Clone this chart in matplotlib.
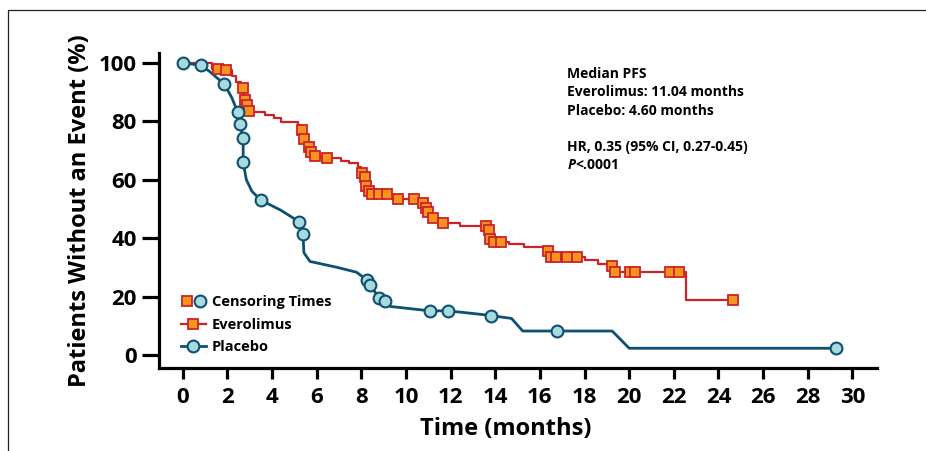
import numpy as np
import matplotlib
matplotlib.use("Agg")
import matplotlib.pyplot as plt
from matplotlib.lines import Line2D
from matplotlib.legend_handler import HandlerTuple

plt.rcParams['font.family'] = ['Open Sans', 'DejaVu Sans']
plt.rcParams['mathtext.fontset'] = 'custom'
plt.rcParams['mathtext.it'] = 'Open Sans:italic:bold'
plt.rcParams['mathtext.rm'] = 'Open Sans:bold'

#? Everolimus curve (step, time in months / % without event)
evero_t = [0, 1.3, 1.8, 2.2, 2.4, 2.6, 2.75, 2.83, 2.92, 3.1, 3.7, 4.1, 4.4, 5.15, 5.28,
           5.4, 5.6, 5.7, 5.8, 6.2, 7.1, 7.45, 7.85, 7.98, 8.1, 8.19, 8.3, 8.42, 9.4,
           10.6, 10.85, 10.96, 11.1, 11.5, 12.4, 13.7, 13.75, 13.9, 14.6, 15.3, 16.3,
           16.45, 18.0, 18.6, 19.15, 19.32, 22.55, 24.67]
evero_s = [100, 97.8, 97.3, 95.5, 93.5, 91.2, 87.2, 85.5, 83.6, 83.2, 82.1, 81.0, 79.8, 78.5, 77.0,
           73.9, 71.3, 69.3, 68.2, 67.3, 66.5, 65.6, 64.2, 62.2, 60.8, 57.8, 56.2, 55.0, 53.4,
           51.9, 50.2, 48.8, 47.0, 45.0, 44.1, 42.8, 39.7, 38.6, 37.9, 36.8, 35.7,
           33.6, 32.5, 31.1, 30.4, 28.3, 18.8, 18.8]
evero_cens_t = [1.59, 1.94, 2.69, 2.79, 2.87, 2.97, 5.33, 5.45, 5.66, 5.73, 5.91, 6.45,
                8.02, 8.16, 8.21, 8.34, 8.46, 8.79, 9.13, 9.66, 10.37, 10.78, 10.9, 11.0,
                11.2, 11.67, 13.58, 13.73, 13.76, 13.95, 14.25, 16.37, 16.48, 16.7, 17.22,
                17.67, 19.24, 19.36, 20.03, 20.26, 21.85, 22.24, 24.67]
evero_cens_s = [97.8, 97.3, 91.2, 87.2, 85.5, 83.6, 77.0, 73.9, 71.3, 69.3, 68.2, 67.3,
                62.2, 60.8, 57.8, 56.2, 55.0, 55.0, 55.0, 53.4, 53.4, 51.9, 50.2, 48.8,
                47.0, 45.0, 44.1, 42.8, 39.7, 38.6, 38.6, 35.7, 33.6, 33.6, 33.6,
                33.6, 30.4, 28.3, 28.3, 28.3, 28.3, 28.3, 18.8]

#? Placebo curve
plac_t = [0, 0.82, 1.2, 1.87, 2.2, 2.46, 2.57, 2.71, 2.71, 2.85, 3.1, 3.51, 4.4, 5.21, 5.39,
          5.43, 5.7, 6.9, 7.79, 8.24, 8.39, 8.80, 9.07, 9.3, 11.07, 11.87, 13.0, 13.79,
          14.73, 15.23, 16.75, 19.24, 20.0, 29.27]
plac_s = [100, 99, 97, 92.6, 88, 83.2, 78.9, 74.1, 65.9, 60, 56, 52.9, 49.5, 45.6, 41.3,
          35, 32, 30, 28.3, 25.7, 23.9, 19.6, 18.5, 16.6, 15.1, 15.1, 14.2, 13.5,
          12.5, 8.2, 8.2, 8.2, 2.3, 2.3]
plac_cens_t = [0, 0.82, 1.87, 2.46, 2.57, 2.71, 2.71, 3.51, 5.21, 5.39, 8.24, 8.39, 8.80,
               9.07, 11.07, 11.87, 13.79, 16.75, 29.27]
plac_cens_s = [100, 99, 92.6, 83.2, 78.9, 74.1, 65.9, 52.9, 45.6, 41.3, 25.7, 23.9, 19.6,
               18.5, 15.1, 15.1, 13.5, 8.2, 2.3]

red = '#cc2229'
orange = '#f7941e'
blue = '#0d5073'
cyan = '#a8dadc'

fig = plt.figure(figsize=(9.26, 4.51), dpi=100)
ax = fig.add_axes([0.1717, 0.184, 0.7754, 0.698])

ax.step(evero_t, evero_s, where='post', color=red, lw=1.6, zorder=2)
ax.plot(plac_t, plac_s, color=blue, lw=2.0, zorder=2)
ax.plot(evero_cens_t, evero_cens_s, 's', ms=6.5, mfc=orange, mec=red, mew=1.3, zorder=3)
ax.plot(plac_cens_t, plac_cens_s, 'o', ms=8.5, mfc=cyan, mec=blue, mew=1.5, zorder=4)

ax.set_xlim(-1.06, 31.1)
ax.set_ylim(-4.45, 103.2)
ax.set_xticks(np.arange(0, 31, 2))
ax.set_yticks(np.arange(0, 101, 20))
for s in ['top', 'right']:
    ax.spines[s].set_visible(False)
for s in ['left', 'bottom']:
    ax.spines[s].set_linewidth(2.3)
ax.tick_params(axis='y', length=12, width=2.3, pad=4, labelsize=16)
ax.tick_params(axis='x', length=8, width=2.3, pad=6, labelsize=16)
for lab in ax.get_xticklabels() + ax.get_yticklabels():
    lab.set_fontweight('bold')

ax.set_xlabel('Time (months)', fontsize=17, fontweight='bold')
ax.set_ylabel('Patients Without an Event (%)', fontsize=17, fontweight='bold')
ax.xaxis.set_label_coords(0.483, -0.155)
ax.yaxis.set_label_coords(-0.093, 0.5)

#? Leyenda
h_sq = Line2D([], [], ls='none', marker='s', ms=6.5, mfc=orange, mec=red, mew=1.3)
h_ci = Line2D([], [], ls='none', marker='o', ms=8.5, mfc=cyan, mec=blue, mew=1.5)
h_ev = Line2D([], [], color=red, lw=1.6, marker='s', ms=6.5, mfc=orange, mec=red, mew=1.3)
h_pl = Line2D([], [], color=blue, lw=2.0, marker='o', ms=8.5, mfc=cyan, mec=blue, mew=1.5)
ax.legend([(h_sq, h_ci), h_ev, h_pl], ['Censoring Times', 'Everolimus', 'Placebo'],
          handler_map={tuple: HandlerTuple(ndivide=None, pad=0.2)},
          loc='lower left', bbox_to_anchor=(0.0125, 0.002), frameon=False,
          prop={'size': 10.5, 'weight': 'bold'}, handlelength=1.7, handletextpad=0.4,
          labelspacing=0.58)

#? Texto
fig.text(567 / 926, 1 - 66.5 / 451, 'Median PFS\nEverolimus: 11.04 months\nPlacebo: 4.60 months',
         fontsize=10, fontweight='bold', va='top', linespacing=1.42)
fig.text(567 / 926, 1 - 139.5 / 451, 'HR, 0.35 (95% CI, 0.27-0.45)\n$P$<.0001',
         fontsize=10, fontweight='bold', va='top', linespacing=1.42)

# marco
fig.add_artist(Line2D([8 / 926, 8 / 926, 1], [0, 1 - 10 / 451, 1 - 10 / 451],
                      transform=fig.transFigure, color='#222222', lw=0.9))

fig.savefig('out.png', dpi=100)
